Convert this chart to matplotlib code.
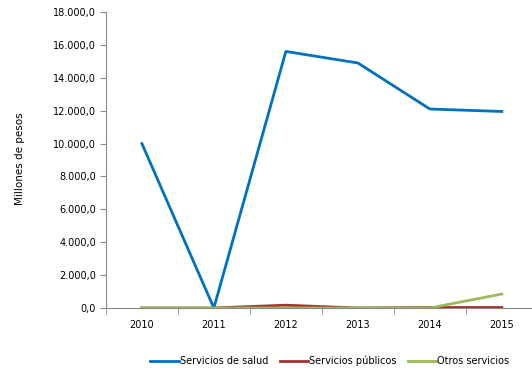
import numpy as np
import matplotlib.pyplot as plt
from matplotlib.ticker import FuncFormatter

years = ["2010", "2011", "2012", "2013", "2014", "2015"]
salud = [10000, 0, 15600, 14900, 12100, 11950]
publicos = [0, 0, 170, 0, 30, 30]
otros = [0, 0, 0, 0, 0, 850]

fig = plt.figure(figsize=(5.32, 3.70), dpi=100)
ax = fig.add_axes([0.199, 0.1676, 0.812, 0.8])

x = np.arange(len(years))
ax.plot(x, salud, color="#0070C0", lw=2, label="Servicios de salud")
ax.plot(x, publicos, color="#A5322D", lw=2, label="Servicios públicos")
ax.plot(x, otros, color="#9BBB59", lw=2, label="Otros servicios")

ax.set_xlim(-0.5, 5.5)
ax.set_ylim(0, 18000)
ax.set_yticks(np.arange(0, 18001, 2000))
ax.yaxis.set_major_formatter(FuncFormatter(
    lambda v, p: "{:,.1f}".format(v).replace(",", "X").replace(".", ",").replace("X", ".")))
ax.set_xticks(x)
ax.set_xticklabels(years)
ax.set_xticks(np.arange(-0.5, 6, 1), minor=True)
ax.tick_params(axis="x", which="major", length=0, pad=9, labelsize=7)
ax.tick_params(axis="x", which="minor", length=4, color="#888888")
ax.tick_params(axis="y", length=4, color="#888888", labelsize=7, pad=3)

for s in ["top", "right"]:
    ax.spines[s].set_visible(False)
for s in ["left", "bottom"]:
    ax.spines[s].set_color("#888888")

fig.text(0.038, 0.57, "Millones de pesos", rotation=90, va="center", ha="center", fontsize=7.5)

fig.legend(loc="center", bbox_to_anchor=(0.62, 0.024), ncol=3,
           frameon=False, fontsize=7, handlelength=2.9, columnspacing=1.2, handletextpad=0.1)

fig.savefig("out.png", dpi=100)
